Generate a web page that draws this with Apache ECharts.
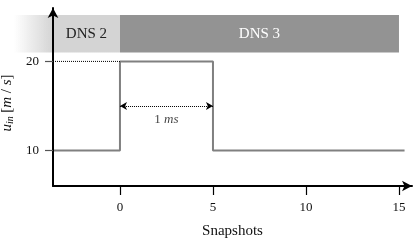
<!DOCTYPE html>
<html>
<head>
<meta charset="utf-8">
<script src="https://cdn.jsdelivr.net/npm/echarts@6/dist/echarts.min.js"></script>
<style>html,body{margin:0;padding:0;background:#fff}#c{width:416px;height:243px}</style>
</head>
<body>
<div id="c"></div>
<script>
// ---- data ----
var stepX = [-3.6, 0, 0, 5, 5, 15.3];
var stepY = [10, 10, 20, 20, 10, 10];
var refX = [-3.6, 0];
var refY = [20, 20];
var spanX = [0, 5];
var spanY = 15;
var spanLabel = '1 ms';
var bandStart = [-5.7, 0];
var bandEnd = [0, 15];
var bandLabelX = [-1.8, 7.5];
var bandLabels = ['DNS 2', 'DNS 3'];
var bandLow = 21;
var bandHigh = 25.2;
var xTicks = [0, 5, 10, 15];
var yTicks = [10, 20];

var FONT = 'Liberation Serif';
var chart = echarts.init(document.getElementById('c'));

var bandData = bandStart.map(function (s, i) { return [s, bandEnd[i], bandLabelX[i], i]; });

chart.setOption({
  animation: false,
  grid: { left: 53, right: 4, top: 8, bottom: 57, containLabel: false, outerBoundsMode: 'none' },
  xAxis: {
    type: 'value', min: -3.6, max: 15.7, z: 10,
    splitLine: { show: false },
    axisLine: { onZero: false, lineStyle: { color: '#000', width: 2 }, symbol: ['none', 'arrow'], symbolSize: [8, 10] },
    axisTick: { customValues: xTicks, length: 9, lineStyle: { color: '#000', width: 1.2 } },
    axisLabel: { customValues: xTicks, margin: 15, color: '#111', fontFamily: FONT, fontSize: 13 },
    name: 'Snapshots', nameLocation: 'middle', nameGap: 38,
    nameTextStyle: { color: '#111', fontFamily: FONT, fontSize: 15 }
  },
  yAxis: {
    type: 'value', min: 6, max: 26, z: 10,
    splitLine: { show: false },
    axisLine: { onZero: false, lineStyle: { color: '#000', width: 2 }, symbol: ['none', 'arrow'], symbolSize: [8, 10] },
    axisTick: { customValues: yTicks, length: 8, lineStyle: { color: '#555', width: 1.2 } },
    axisLabel: { customValues: yTicks, margin: 14, color: '#111', fontFamily: FONT, fontSize: 13 },
    name: '{i|u}{sub|in} {n|[}{i|m}{n| / }{i|s}{n|]}', nameLocation: 'middle', nameGap: 32, nameRotate: 90,
    nameTextStyle: {
      color: '#111', fontFamily: FONT, fontSize: 14, padding: [0, 12, 0, 0],
      rich: {
        i: { fontStyle: 'italic', fontFamily: FONT, fontSize: 15, color: '#111' },
        sub: { fontStyle: 'italic', fontFamily: FONT, fontSize: 10, color: '#111', padding: [6, 0, 0, 0] },
        n: { fontFamily: FONT, fontSize: 15, color: '#111' }
      }
    }
  },
  series: [
    {
      type: 'custom', z: 1, clip: false,
      data: bandData,
      renderItem: function (params, api) {
        var x0 = api.value(0), x1 = api.value(1), lx = api.value(2), idx = api.value(3);
        var p0 = api.coord([x0, bandHigh]);
        var p1 = api.coord([x1, bandLow]);
        var fill;
        if (idx === 0) {
          var gEnd = api.coord([-3.6, bandLow])[0];
          var w = p1[0] - p0[0];
          var frac = (gEnd - p0[0]) / w;
          fill = new echarts.graphic.LinearGradient(0, 0, 1, 0, [
            { offset: 0, color: 'rgba(211,211,211,0)' },
            { offset: frac, color: '#d4d4d4' },
            { offset: 1, color: '#d4d4d4' }
          ]);
        } else {
          fill = '#939393';
        }
        var lp = api.coord([lx, (bandLow + bandHigh) / 2]);
        return {
          type: 'group',
          children: [
            { type: 'rect', shape: { x: p0[0], y: p0[1], width: p1[0] - p0[0], height: p1[1] - p0[1] }, style: { fill: fill } },
            { type: 'text', x: lp[0], y: lp[1], style: { text: bandLabels[idx], fill: idx === 0 ? '#222' : '#fff', font: '15px "Liberation Serif"', align: 'center', verticalAlign: 'middle' } }
          ]
        };
      }
    },
    {
      type: 'line', z: 3, symbol: 'none',
      data: stepX.map(function (x, i) { return [x, stepY[i]]; }),
      lineStyle: { color: '#808080', width: 2 }
    },
    {
      type: 'line', z: 3, symbol: 'none',
      data: refX.map(function (x, i) { return [x, refY[i]]; }),
      lineStyle: { color: '#000', width: 1, type: 'dotted' }
    },
    {
      type: 'line', z: 3, symbol: 'none', data: [],
      markLine: {
        silent: true, symbol: ['arrow', 'arrow'], symbolSize: [6, 7],
        lineStyle: { color: '#000', width: 1, type: 'dotted' },
        label: { show: false },
        data: [[{ coord: [spanX[0], spanY] }, { coord: [spanX[1], spanY] }]]
      }
    },
    {
      type: 'scatter', z: 3, symbolSize: 0,
      data: [[(spanX[0] + spanX[1]) / 2, spanY]],
      label: {
        show: true, position: 'bottom', distance: 7,
        formatter: '{n|1 }{i|ms}',
        rich: {
          n: { fontFamily: FONT, fontSize: 13, color: '#111' },
          i: { fontFamily: FONT, fontSize: 13, fontStyle: 'italic', color: '#111' }
        }
      }
    }
  ]
});
</script>
</body>
</html>
